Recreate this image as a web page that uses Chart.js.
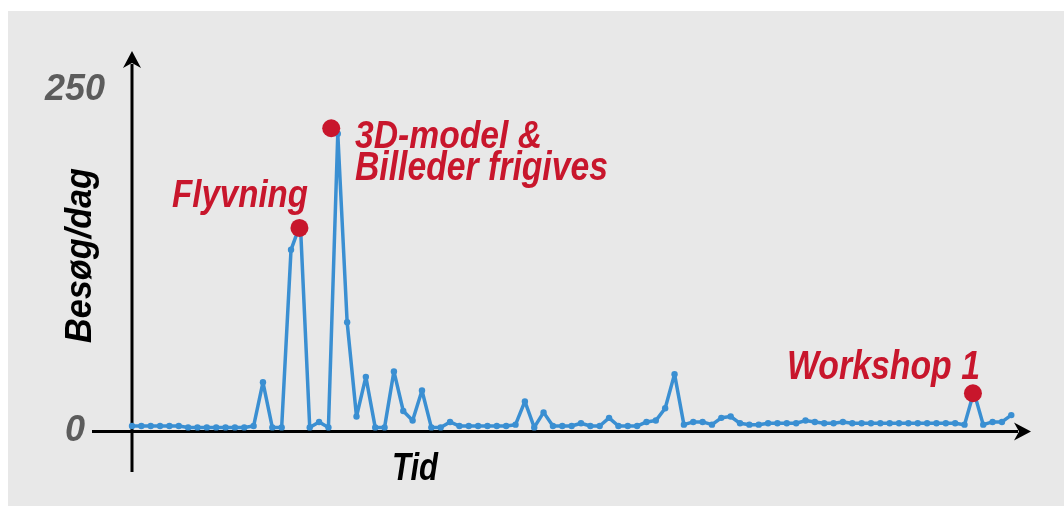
<!DOCTYPE html>
<html>
<head>
<meta charset="utf-8">
<script src="https://cdn.jsdelivr.net/npm/chart.js@4.4.1/dist/chart.umd.min.js"></script>
<style>
  html, body { margin: 0; padding: 0; background: #fff; }
  #panel { position: absolute; left: 8px; top: 11px; width: 1056px; height: 495px; background: #e8e8e8; }
  #chartBesog { position: absolute; left: 0; top: 0; }
</style>
</head>
<body>
<div id="panel"></div>
<canvas id="chartBesog" width="1064" height="506"></canvas>
<script>
// besøg pr. dag (en værdi pr. dag)
const visits = [
  4, 4, 4, 4, 4, 4, 3, 3, 3, 3,
  3, 3, 3, 4, 36, 3, 3, 133, 152, 3,
  7, 3, 218, 80, 11, 40, 3, 3, 44, 15,
  8, 30, 3, 3, 7, 4, 4, 4, 4, 4,
  4, 5, 22, 3, 14, 4, 4, 4, 6, 4,
  4, 10, 4, 4, 4, 7, 8, 17, 42, 5,
  7, 7, 5, 10, 11, 6, 5, 5, 6, 6,
  6, 6, 8, 7, 6, 6, 7, 6, 6, 6,
  6, 6, 6, 6, 6, 6, 6, 6, 6, 5,
  29, 5, 7, 7, 12
];
const days = visits.map((v, i) => i);

// begivenheder markeret med røde prikker
const eventNames = ['Flyvning', '3D-model & Billeder frigives', 'Workshop 1'];
const eventDays = [17.9, 21.3, 89.9];
const eventValues = [149, 222, 28];

const tickValues = [0, 250];
const tickLabels = ['0', '250'];

const FONT = "'Liberation Sans Narrow', 'Liberation Sans', Arial, sans-serif";
const BLUE = '#3a8fd2';
const RED = '#c8162c';

// skriv tekst og tilpas bredden, så den matcher originalen
function fitText(ctx, text, x, y, size, width, color, angle) {
  ctx.save();
  ctx.font = `italic bold ${size}px ${FONT}`;
  ctx.fillStyle = color;
  ctx.textAlign = 'left';
  ctx.textBaseline = 'alphabetic';
  ctx.translate(x, y);
  if (angle) ctx.rotate(angle);
  ctx.scale(width / ctx.measureText(text).width, 1);
  ctx.fillText(text, 0, 0);
  ctx.restore();
}

const axesArrows = {
  id: 'axesArrows',
  beforeDatasetsDraw(chart) {
    const { ctx, scales: { x, y } } = chart;
    const x0 = x.getPixelForValue(0);
    const y0 = y.getPixelForValue(0);
    ctx.save();
    ctx.strokeStyle = '#000';
    ctx.fillStyle = '#000';
    ctx.lineWidth = 3;
    ctx.beginPath();
    ctx.moveTo(92, y0);
    ctx.lineTo(1018, y0);
    ctx.moveTo(x0, 472);
    ctx.lineTo(x0, 64);
    ctx.stroke();
    ctx.beginPath();
    ctx.moveTo(1031, y0);
    ctx.lineTo(1014, y0 - 9);
    ctx.lineTo(1019, y0);
    ctx.lineTo(1014, y0 + 9);
    ctx.closePath();
    ctx.moveTo(x0, 51);
    ctx.lineTo(x0 - 9, 68);
    ctx.lineTo(x0, 63);
    ctx.lineTo(x0 + 9, 68);
    ctx.closePath();
    ctx.fill();
    ctx.restore();
  }
};

const labelsPlugin = {
  id: 'labelsPlugin',
  afterDraw(chart) {
    const ctx = chart.ctx;
    fitText(ctx, 'Tid', 392, 480, 39, 46, '#000');
    fitText(ctx, 'Besøg/dag', 91, 343, 36, 175, '#000', -Math.PI / 2);
    fitText(ctx, eventNames[0], 172, 207, 39, 136, RED);
    fitText(ctx, '3D-model &', 355, 148, 39, 187, RED);
    fitText(ctx, 'Billeder frigives', 355, 180, 40, 253, RED);
    fitText(ctx, eventNames[2], 787, 379, 40, 193, RED);
  }
};

const ctxBesog = document.getElementById('chartBesog').getContext('2d');

new Chart(ctxBesog, {
  type: 'line',
  data: {
    labels: days,
    datasets: [
      {
        type: 'scatter',
        label: 'Begivenheder',
        data: eventDays.map((d, i) => ({ x: d, y: eventValues[i] })),
        backgroundColor: RED,
        borderColor: RED,
        pointRadius: 9,
        pointBorderWidth: 0,
        order: 0,
        clip: false
      },
      {
        label: 'Besøg/dag',
        data: visits,
        borderColor: BLUE,
        backgroundColor: BLUE,
        borderWidth: 3.5,
        borderJoinStyle: 'round',
        tension: 0,
        pointRadius: 3.2,
        pointBorderWidth: 0,
        pointBackgroundColor: BLUE,
        order: 1,
        clip: false
      }
    ]
  },
  options: {
    responsive: false,
    animation: false,
    devicePixelRatio: 1,
    layout: {
      padding: { left: 8, right: 34, top: 90, bottom: 74.5 }
    },
    plugins: {
      legend: { display: false },
      tooltip: { enabled: false }
    },
    scales: {
      x: {
        type: 'linear',
        min: 0,
        max: 96,
        display: false
      },
      y: {
        min: 0,
        max: 250,
        border: { display: false },
        grid: { display: false, drawTicks: false },
        afterFit: function(scale) {
          scale.width = 124;
        },
        afterBuildTicks: function(scale) {
          scale.ticks = tickValues.map(v => ({ value: v }));
        },
        ticks: {
          crossAlign: 'center',
          padding: 27,
          color: '#5c5c5c',
          font: { family: FONT, size: 36, weight: 'bold', style: 'italic' },
          callback: function(value) {
            return tickLabels[tickValues.indexOf(value)];
          }
        }
      }
    }
  },
  plugins: [axesArrows, labelsPlugin]
});
</script>
</body>
</html>
